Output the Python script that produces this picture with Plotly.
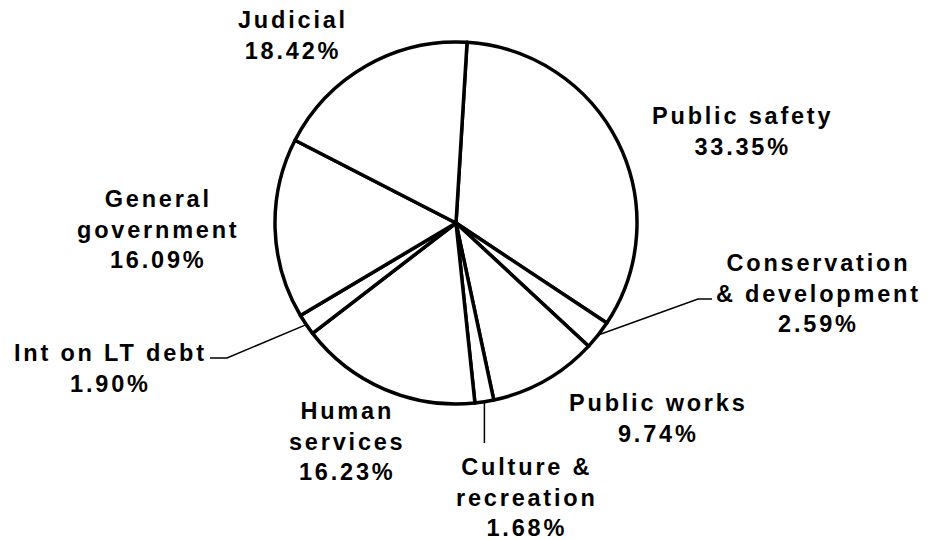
import math
import plotly.graph_objects as go

# ---- data ----
categories = ["Public safety", "Conservation & development", "Public works",
              "Culture & recreation", "Human services", "Int on LT debt",
              "General government", "Judicial"]
values = [33.35, 2.59, 9.74, 1.68, 16.23, 1.90, 16.09, 18.42]
label_lines = [["Public safety"], ["Conservation", "& development"], ["Public works"],
               ["Culture &", "recreation"], ["Human", "services"], ["Int on LT debt"],
               ["General", "government"], ["Judicial"]]

# ---- layout geometry (window pixels) ----
OFF = 8                      # page body margin
W, H = 935 - OFF, 540 - OFF  # figure size so it fits the window
CX, CY, R = 456, 223, 181
ROTATION = 3.5

label_pos = {
    "Public safety": (742, 132),
    "Conservation & development": (818, 293),
    "Public works": (658, 418),
    "Culture & recreation": (527, 497),
    "Human services": (347, 441),
    "Int on LT debt": (110, 368),
    "General government": (158, 229),
    "Judicial": (293, 36),
}
leaders = {
    "Conservation & development": [(698, 299), (712, 299)],
    "Int on LT debt": [(227, 358), (210, 358)],
    "Culture & recreation": [None, 443],
}

def px(x):
    return (x - OFF) / W

def py(y):
    return 1 - (y - OFF) / H

fig = go.Figure(go.Pie(
    labels=categories, values=values, sort=False, direction="clockwise",
    rotation=ROTATION, textinfo="none", hoverinfo="label+percent",
    marker=dict(colors=["white"] * len(values), line=dict(color="black", width=3.5)),
    domain=dict(x=[px(CX - R), px(CX + R)], y=[py(CY + R), py(CY - R)]),
    showlegend=False,
))

SP = "letter-spacing:2.8px"
total = sum(values)
cum = 0.0
for cat, v, lines in zip(categories, values, label_lines):
    mid = ROTATION + 360 * (cum + v / 2) / total
    cum += v
    txt = "<br>".join(f"<b><span style='{SP}'>{l}</span></b>" for l in lines + [f"{v:.2f}%"])
    lx, ly = label_pos[cat]
    fig.add_annotation(x=px(lx), y=py(ly), xref="paper", yref="paper", text=txt,
                       showarrow=False, xanchor="center", yanchor="middle",
                       align="center", font=dict(size=23.5, color="black",
                                                 family="Liberation Sans, Arial"))
    if cat in leaders:
        ex = CX + R * math.sin(math.radians(mid))
        ey = CY - R * math.cos(math.radians(mid))
        pts = leaders[cat]
        if pts[0] is None:
            path_pts = [(ex, ey), (ex, pts[1])]
        else:
            path_pts = [(ex, ey)] + pts
        path = "M " + " L ".join(f"{px(a):.5f},{py(b):.5f}" for a, b in path_pts)
        fig.add_shape(type="path", path=path, xref="paper", yref="paper",
                      line=dict(color="black", width=1.5))

fig.update_layout(width=W, height=H, margin=dict(l=0, r=0, t=0, b=0),
                  paper_bgcolor="white", plot_bgcolor="white")
fig.write_html("out.html")
